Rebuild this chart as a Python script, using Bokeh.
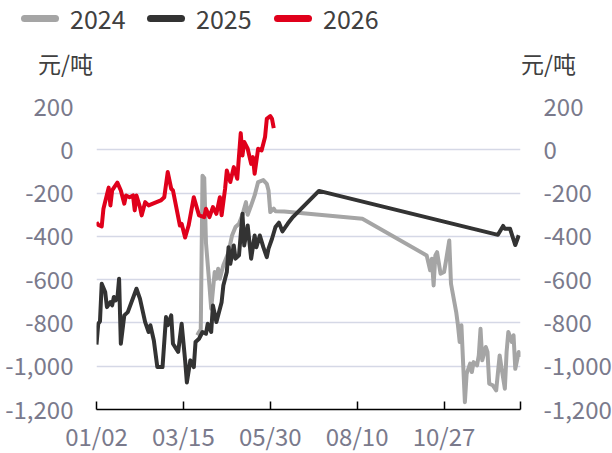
from bokeh.plotting import figure
from bokeh.layouts import column
from bokeh.models import LinearAxis, FixedTicker, NumeralTickFormatter, Range1d, Div
from bokeh.embed import file_html
from bokeh.resources import INLINE

# trading-day index (x) and spread values (元/吨)
x2026 = [0, 1, 3, 4, 7, 8, 9, 12, 14, 16, 17, 19, 21, 22, 23, 25, 26, 28, 30, 37, 39, 41, 43, 44,
         48, 49, 51, 53, 56, 59, 62, 63, 65, 67, 69, 71, 72, 74, 75, 77, 79, 81, 83, 84, 85, 87,
         89, 90, 91, 93, 95, 97, 98, 100, 101, 102]
y2026 = [-335, -347, -354, -272, -175, -257, -188, -152, -188, -249, -211, -219, -211, -280, -211,
         -265, -303, -242, -257, -234, -219, -103, -180, -188, -350, -342, -405, -350, -219, -303,
         -311, -272, -311, -265, -296, -219, -303, -180, -96, -149, -80, -134, 77, -26, 36, 5,
         -65, -34, -111, 5, -3, 59, 143, 156, 143, 100]

x2025 = [0, 1, 2, 3, 5, 6, 8, 9, 10, 11, 12, 13, 14, 16, 18, 23, 25, 28, 30, 31, 33, 35, 38, 40,
         41, 43, 44, 47, 49, 51, 52, 54, 56, 57, 59, 61, 63, 64, 66, 67, 69, 72, 73, 75, 76, 77,
         79, 80, 82, 84, 85, 87, 89, 91, 92, 94, 96, 98, 99, 101, 103, 105, 107, 110, 113, 128,
         231, 234, 235, 238, 241, 243]
y2025 = [-900, -804, -793, -619, -657, -727, -704, -719, -680, -696, -688, -596, -896, -765, -750,
         -642, -688, -796, -842, -811, -881, -1004, -1004, -773, -811, -765, -896, -934, -804,
         -973, -1075, -973, -1004, -888, -873, -842, -850, -804, -842, -719, -796, -704, -627,
         -565, -450, -527, -442, -503, -488, -296, -442, -350, -503, -396, -450, -396, -450, -496,
         -457, -411, -357, -337, -377, -342, -311, -190, -393, -352, -365, -365, -440, -395]

x2024 = [58, 59, 60, 61, 62, 63, 65, 66, 68, 69, 70, 71, 73, 76, 78, 80, 82, 84, 86, 87, 89, 91,
         93, 96, 98, 99, 100, 102, 103, 108, 153, 190, 192, 193, 194, 195, 196, 198, 200, 201,
         203, 204, 207, 208, 209, 210, 212, 213, 215, 216, 217, 219, 220, 221, 222, 224, 225, 226,
         228, 230, 232, 233, 235, 236, 237, 239, 240, 241, 243, 244]
y2024 = [-857, -842, -830, -120, -130, -430, -627, -734, -565, -596, -550, -596, -534, -473, -396,
         -357, -342, -300, -242, -300, -257, -211, -149, -140, -157, -188, -288, -272, -284, -285,
         -319, -488, -557, -503, -627, -488, -473, -573, -565, -519, -419, -619, -750, -811, -888,
         -811, -1166, -1035, -988, -1027, -981, -996, -950, -827, -973, -911, -934, -1081, -1088,
         -1112, -950, -1004, -1104, -934, -842, -888, -857, -1012, -934, -957]

tick_pos = [0, 50, 100, 150, 200, 244]
tick_labels = ["01/02", "03/15", "05/30", "08/10", "10/27", ""]
y_ticks = [-1200, -1000, -800, -600, -400, -200, 0, 200]
grid_ticks = [-1000, -800, -600, -400, -200, 0, 200]
series_names = ["2024", "2025", "2026"]
unit_text = "元/吨"

FONT = "Noto Sans CJK SC"
TICK_COLOR = "#7a7a8c"
TEXT_COLOR = "#404040"
C24, C25, C26 = "#a5a5a5", "#333333", "#e0001b"
FW, FH = 424, 303
HDR_H = 84

# ---- header (legend + unit labels) as HTML text ----
swatch_left = [21, 147, 274]
label_left = [70, 196, 323]
parts = []
for name, c, sl, tl in zip(series_names, (C24, C25, C26), swatch_left, label_left):
    parts.append(f'<span style="position:absolute;left:{sl}px;top:15px;width:38px;height:7px;'
                 f'border-radius:4px;background:{c};"></span>')
    parts.append(f'<span style="position:absolute;left:{tl}px;top:4px;font-size:25px;'
                 f'line-height:28px;white-space:nowrap;">{name}</span>')
for ul in (38, 521):
    parts.append(f'<span style="position:absolute;left:{ul}px;top:49px;font-size:23px;'
                 f'line-height:28px;white-space:nowrap;">{unit_text}</span>')
html = (f'<div style="position:relative;width:606px;height:{HDR_H}px;font-family:\'{FONT}\';'
        f'color:{TEXT_COLOR};">' + "".join(parts) + '</div>')
header = Div(text=html, width=606, height=HDR_H, margin=0)

# ---- main chart ----
p = figure(frame_width=FW, frame_height=FH, output_backend="svg", toolbar_location=None,
           x_range=Range1d(0, 244), y_range=Range1d(-1200, 200),
           min_border_left=96, min_border_right=80, min_border_top=22, min_border_bottom=0)
p.outline_line_color = None

p.line(x2024, y2024, line_color=C24, line_width=4, line_join="round")
p.line(x2025, y2025, line_color=C25, line_width=4, line_join="round")
p.line(x2026, y2026, line_color=C26, line_width=4, line_join="round")

p.xaxis.ticker = FixedTicker(ticks=tick_pos)
p.xaxis.major_label_overrides = {t: l for t, l in zip(tick_pos, tick_labels)}
p.xaxis.axis_line_color = "black"
p.xaxis.axis_line_width = 1.5
p.xaxis.major_tick_line_color = "black"
p.xaxis.major_tick_line_width = 1.5
p.xaxis.major_tick_in = 8
p.xaxis.major_tick_out = 0
p.xaxis.minor_tick_line_color = None
p.xaxis.major_label_standoff = 8
p.xaxis.major_label_text_font = FONT
p.xaxis.major_label_text_font_size = "24px"
p.xaxis.major_label_text_color = TICK_COLOR

def style_y(ax):
    ax.ticker = FixedTicker(ticks=y_ticks)
    ax.formatter = NumeralTickFormatter(format="0,0")
    ax.axis_line_color = None
    ax.major_tick_line_color = None
    ax.minor_tick_line_color = None
    ax.major_label_standoff = 17
    ax.major_label_text_font = FONT
    ax.major_label_text_font_size = "24px"
    ax.major_label_text_color = TICK_COLOR

style_y(p.yaxis[0])
ry = LinearAxis()
style_y(ry)
p.add_layout(ry, "right")

p.xgrid.grid_line_color = None
p.ygrid.ticker = FixedTicker(ticks=grid_ticks)
p.ygrid.grid_line_color = "#d5d8e6"
p.ygrid.grid_line_width = 1.5

layout = column(header, p, spacing=0)
open("out.html", "w").write(file_html(layout, INLINE))
